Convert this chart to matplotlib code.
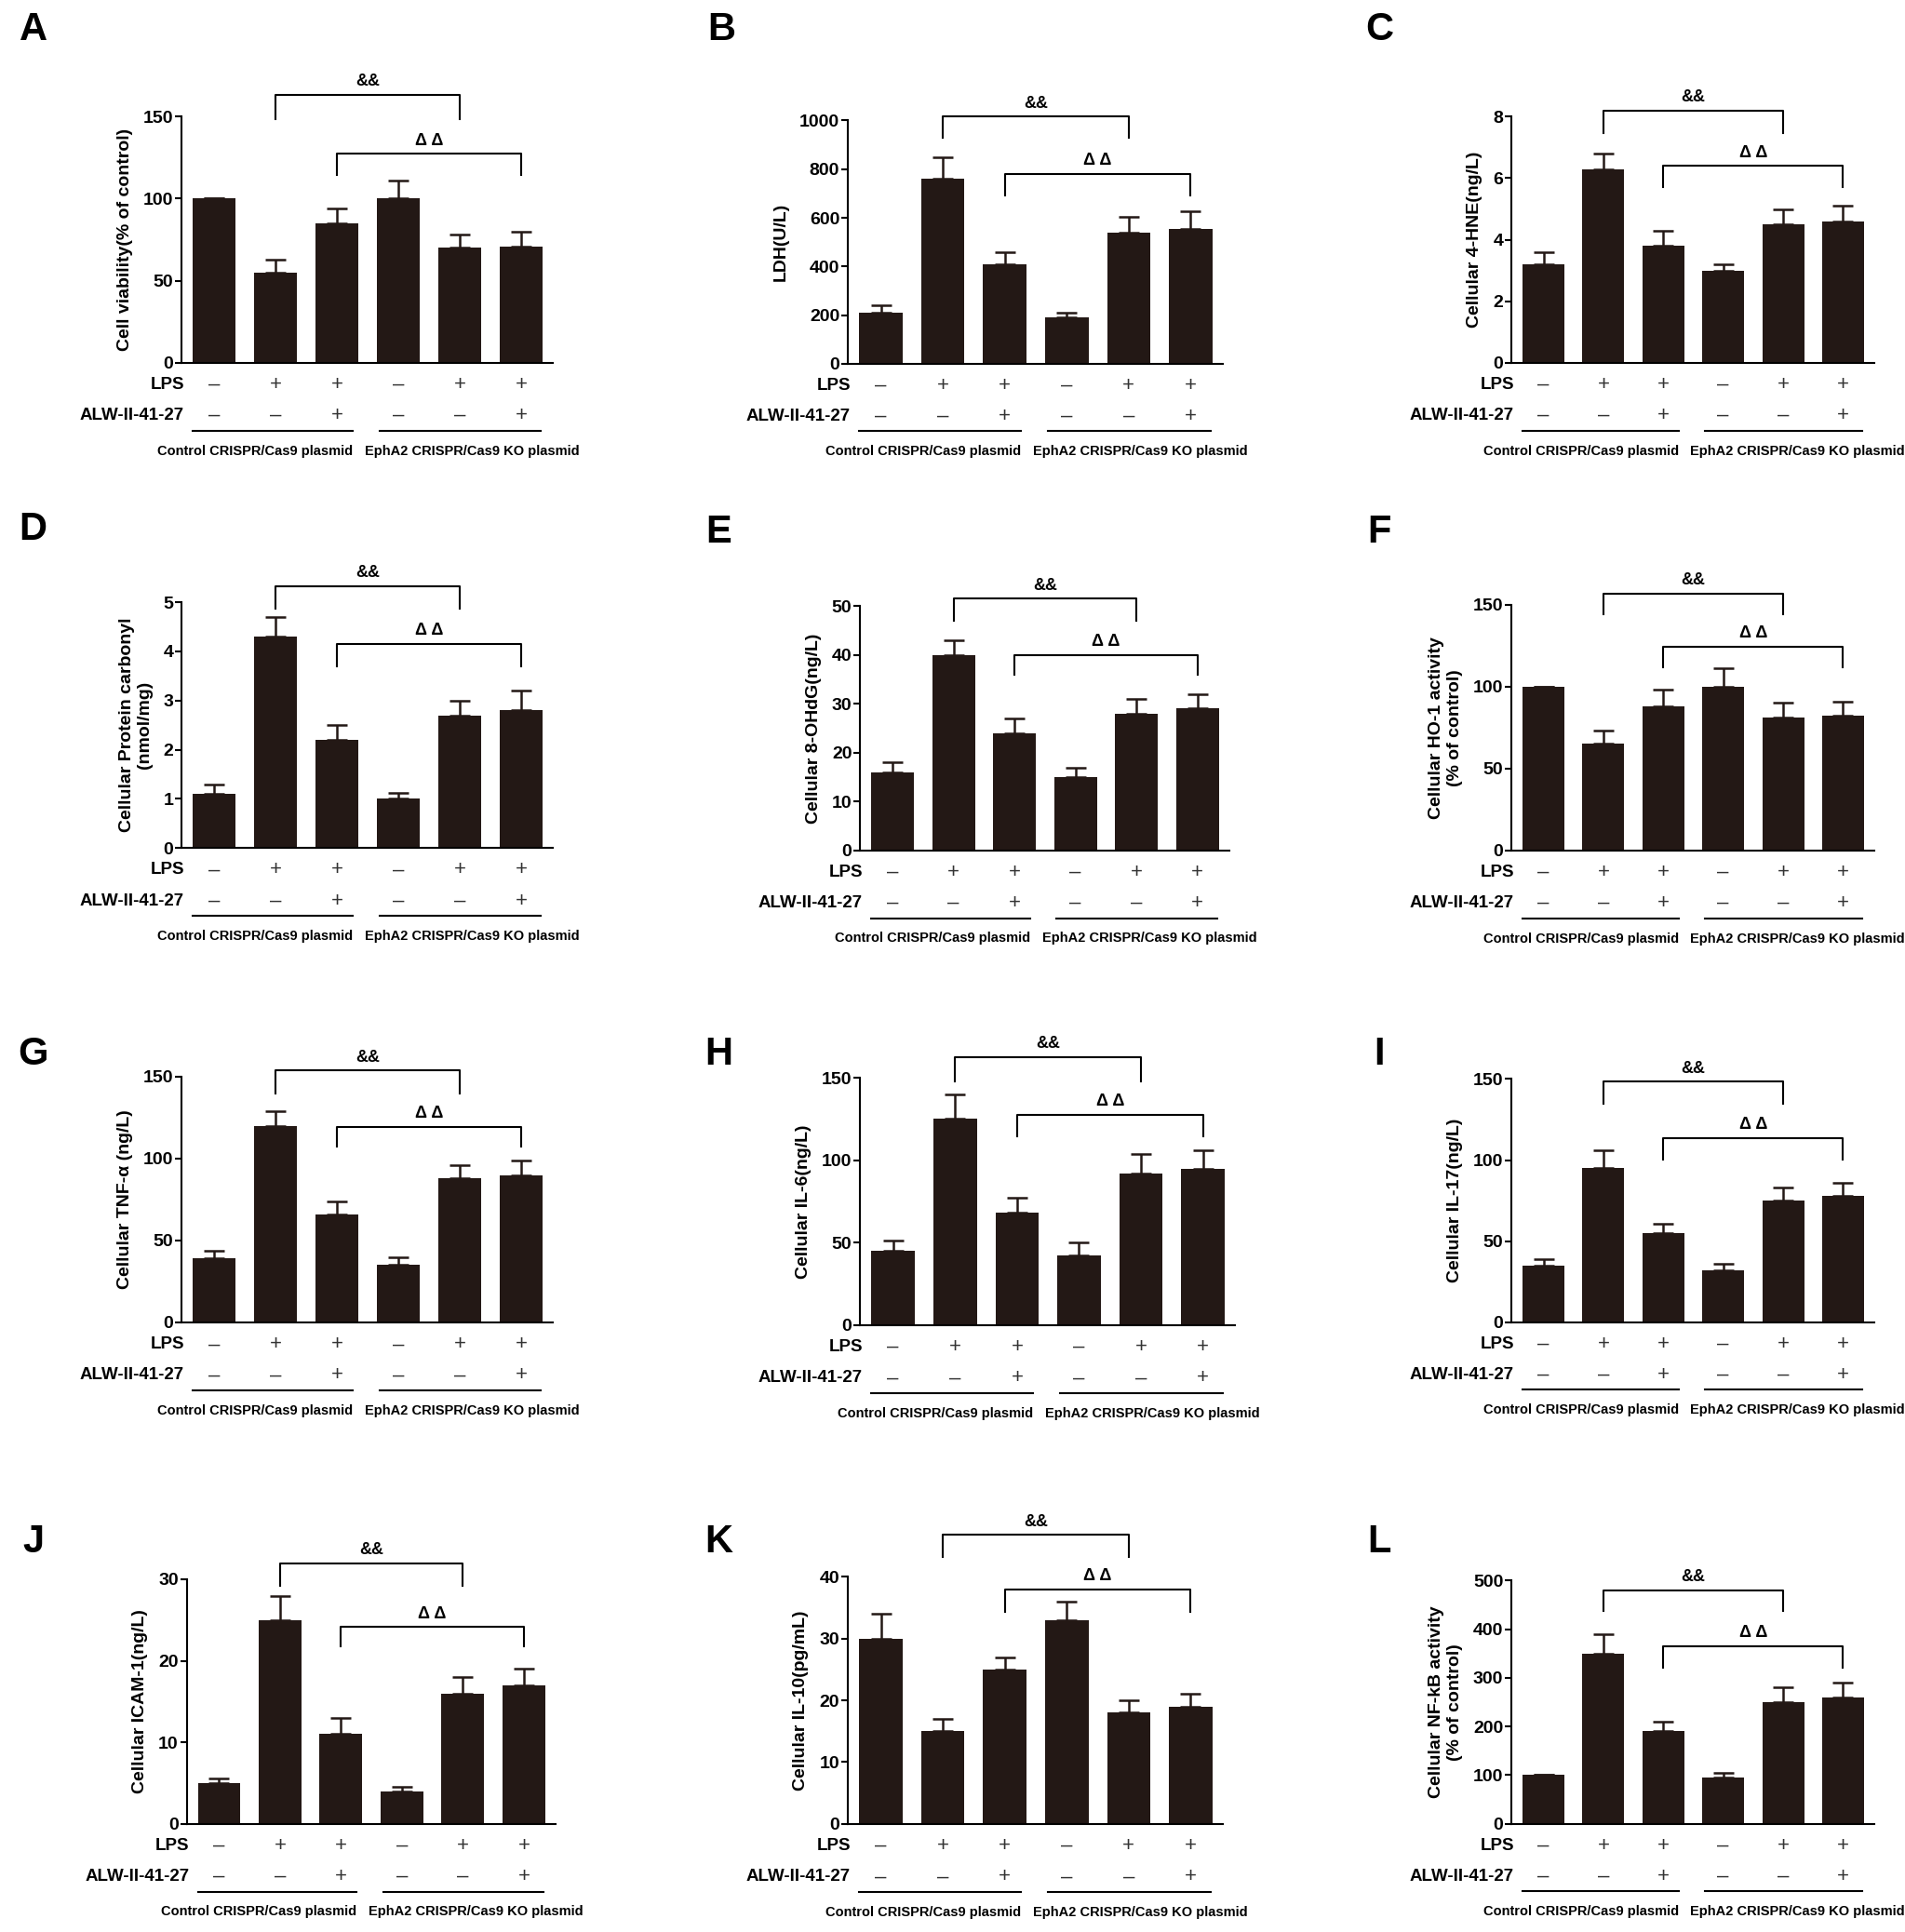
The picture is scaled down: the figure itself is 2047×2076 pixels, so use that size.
import numpy as np
import matplotlib
matplotlib.use("Agg")
import matplotlib.pyplot as plt

FONT = ['Liberation Sans', 'DejaVu Sans']
BAR_C = '#231815'

# %% Data

lps = ['–', '+', '+', '–', '+', '+']
alw = ['–', '–', '+', '–', '–', '+']

panels = ['A', 'B', 'C', 'D', 'E', 'F', 'G', 'H', 'I', 'J', 'K', 'L']

ylabels = ['Cell viability(% of control)', 'LDH(U/L)', 'Cellular 4-HNE(ng/L)',
           'Cellular Protein carbonyl\n(nmol/mg)', 'Cellular 8-OHdG(ng/L)',
           'Cellular HO-1 activity\n(% of control)',
           'Cellular TNF-α (ng/L)', 'Cellular IL-6(ng/L)', 'Cellular IL-17(ng/L)',
           'Cellular ICAM-1(ng/L)', 'Cellular IL-10(pg/mL)',
           'Cellular NF-kB activity\n(% of control)']

vals_A = [100, 55, 85, 100, 70, 71]
errs_A = [0, 8, 9, 11, 8, 9]
vals_B = [210, 760, 410, 190, 540, 555]
errs_B = [30, 90, 50, 20, 65, 70]
vals_C = [3.2, 6.3, 3.8, 3.0, 4.5, 4.6]
errs_C = [0.4, 0.5, 0.5, 0.2, 0.5, 0.5]
vals_D = [1.1, 4.3, 2.2, 1.0, 2.7, 2.8]
errs_D = [0.2, 0.4, 0.3, 0.12, 0.3, 0.4]
vals_E = [16, 40, 24, 15, 28, 29]
errs_E = [2, 3, 3, 2, 3, 3]
vals_F = [100, 65, 88, 100, 81, 82]
errs_F = [0, 8, 10, 11, 9, 9]
vals_G = [39, 120, 66, 35, 88, 90]
errs_G = [5, 9, 8, 5, 8, 9]
vals_H = [45, 125, 68, 42, 92, 95]
errs_H = [6, 15, 9, 8, 12, 11]
vals_I = [35, 95, 55, 32, 75, 78]
errs_I = [4, 11, 6, 4, 8, 8]
vals_J = [5, 25, 11, 4, 16, 17]
errs_J = [0.6, 3, 2, 0.5, 2, 2]
vals_K = [30, 15, 25, 33, 18, 19]
errs_K = [4, 2, 2, 3, 2, 2]
vals_L = [100, 350, 190, 95, 250, 260]
errs_L = [0, 40, 20, 10, 30, 30]

all_vals = [vals_A, vals_B, vals_C, vals_D, vals_E, vals_F,
            vals_G, vals_H, vals_I, vals_J, vals_K, vals_L]
all_errs = [errs_A, errs_B, errs_C, errs_D, errs_E, errs_F,
            errs_G, errs_H, errs_I, errs_J, errs_K, errs_L]

ytops = [150, 1000, 8, 5, 50, 150, 150, 150, 150, 30, 40, 500]
ysteps = [50, 200, 2, 1, 10, 50, 50, 50, 50, 10, 10, 100]

# bracket heights (axes fraction): (&& line, && drop, ΔΔ line, ΔΔ drop)
brackets = [(1.09, 0.99, 0.85, 0.765), (1.015, 0.93, 0.78, 0.69),
            (1.025, 0.935, 0.80, 0.715), (1.065, 0.975, 0.83, 0.74),
            (1.03, 0.94, 0.80, 0.72), (1.045, 0.96, 0.83, 0.745),
            (1.025, 0.93, 0.795, 0.715), (1.085, 0.985, 0.85, 0.765),
            (0.99, 0.90, 0.757, 0.67), (1.065, 0.975, 0.805, 0.725),
            (1.17, 1.08, 0.95, 0.86), (0.96, 0.875, 0.73, 0.64)]

# axes boxes in reference coordinates (scaled image 1550 x 1572): left, right, top, bottom
boxes = [(148, 450, 95, 295), (690, 995, 98, 296), (1230, 1525, 95, 295),
         (148, 450, 490, 690), (700, 1000, 493, 692), (1230, 1525, 492, 692),
         (148, 450, 876, 1076), (700, 1005, 877, 1078), (1230, 1525, 878, 1076),
         (152, 452, 1285, 1484), (690, 995, 1283, 1484), (1230, 1525, 1286, 1484)]
letters_xy = [(27, 24), (587, 24), (1122, 24), (27, 431), (585, 433), (1122, 433),
              (27, 858), (585, 858), (1122, 858), (27, 1255), (585, 1255), (1122, 1255)]

W, H = 1550.0, 1572.0
fig = plt.figure(figsize=(20.47, 20.76), dpi=100)

x = np.arange(6)

for k in range(12):
    l, r, t, b = boxes[k]
    ax = fig.add_axes([l / W, 1 - b / H, (r - l) / W, (b - t) / H])
    v = all_vals[k]
    e = all_errs[k]
    ax.bar(x, v, width=0.70, color=BAR_C, zorder=2)
    ax.errorbar(x, v, yerr=[np.zeros(6), e], fmt='none', ecolor=BAR_C,
                elinewidth=1.8, capsize=8, capthick=1.8, zorder=1)
    ax.set_xlim(-0.53, 5.52)
    ax.set_ylim(0, ytops[k])
    ax.set_yticks(np.arange(0, ytops[k] + ysteps[k] / 2, ysteps[k]))
    ax.set_xticks([])
    for s in ['top', 'right']:
        ax.spines[s].set_visible(False)
    for s in ['left', 'bottom']:
        ax.spines[s].set_linewidth(1.5)
    ax.tick_params(axis='y', direction='out', length=5, width=1.5, pad=1.5)
    for lab in ax.get_yticklabels():
        lab.set_fontfamily(FONT)
        lab.set_fontweight('bold')
        lab.set_fontsize(14)
    ax.set_ylabel(ylabels[k], fontsize=14, fontweight='bold', family=FONT,
                  labelpad=8, multialignment='center')

    tr = ax.get_xaxis_transform()
    # significance brackets
    h1, d1, h2, d2 = brackets[k]
    for (x0, x1, hh, dd, sym) in [(1, 4, h1, d1, '&&'), (2, 5, h2, d2, 'Δ Δ')]:
        ax.plot([x0, x0, x1, x1], [dd, hh, hh, dd], color='black', lw=1.5,
                transform=tr, clip_on=False)
        ax.annotate(sym, xy=((x0 + x1) / 2, hh), xycoords=tr, xytext=(0, 4),
                    textcoords='offset points', ha='center', va='bottom',
                    fontsize=13, fontweight='bold', family=FONT)

    # treatment rows
    ax.text(-0.49, -0.09, 'LPS', transform=tr, ha='right', va='center',
            fontsize=13.5, fontweight='bold', family=FONT)
    ax.text(-0.49, -0.215, 'ALW-II-41-27', transform=tr, ha='right', va='center',
            fontsize=13.5, fontweight='bold', family=FONT)
    for i in range(6):
        ax.text(x[i], -0.09, lps[i], transform=tr, ha='center', va='center',
                fontsize=16, family=FONT, color='#333333')
        ax.text(x[i], -0.215, alw[i], transform=tr, ha='center', va='center',
                fontsize=16, family=FONT, color='#333333')

    # group lines and labels
    ax.plot([-0.35, 2.26], [-0.277, -0.277], color='black', lw=1.5,
            transform=tr, clip_on=False)
    ax.plot([2.69, 5.32], [-0.277, -0.277], color='black', lw=1.5,
            transform=tr, clip_on=False)
    ax.text(2.26, -0.36, 'Control CRISPR/Cas9 plasmid', transform=tr,
            ha='right', va='center', fontsize=10.5, fontweight='bold', family=FONT)
    ax.text(2.45, -0.36, 'EphA2 CRISPR/Cas9 KO plasmid', transform=tr,
            ha='left', va='center', fontsize=10.5, fontweight='bold', family=FONT)

    lx, ly = letters_xy[k]
    fig.text(lx / W, 1 - ly / H, panels[k], ha='center', va='center',
             fontsize=30, fontweight='bold', family=FONT)

fig.savefig('out.png', dpi=100, facecolor='white')
